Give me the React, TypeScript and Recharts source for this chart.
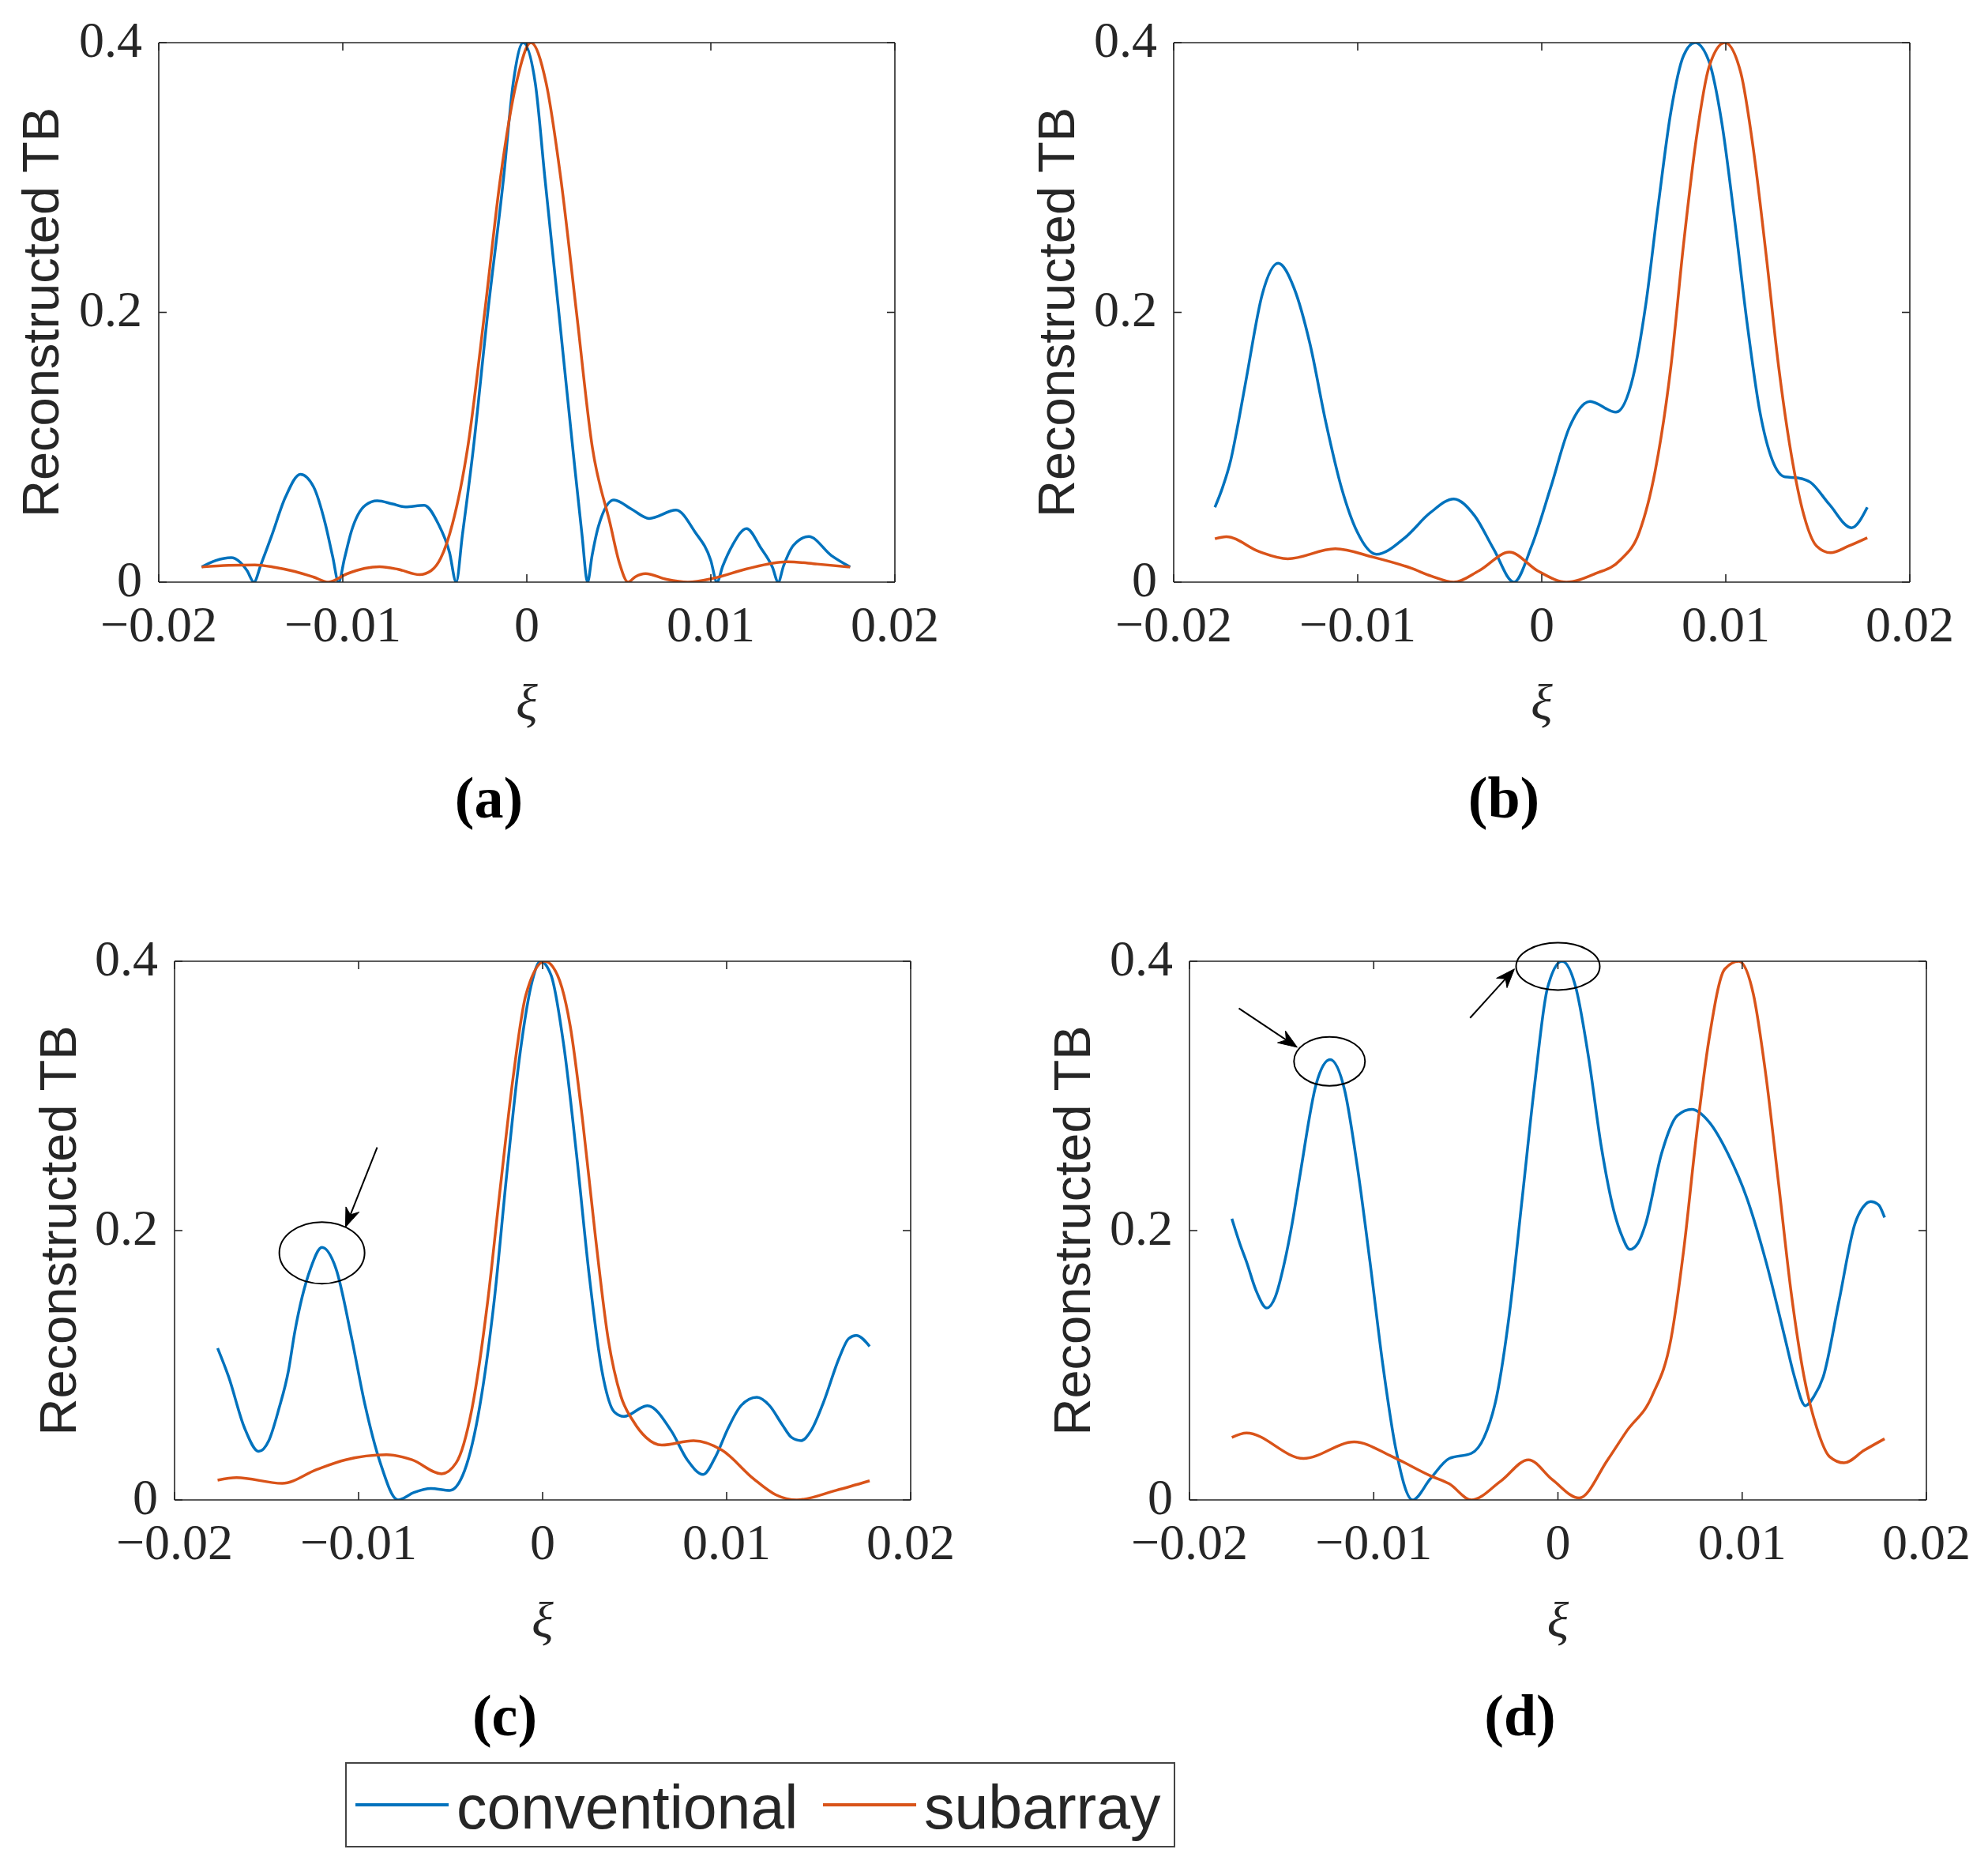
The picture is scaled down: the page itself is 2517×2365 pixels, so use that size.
import React from 'react';
import { LineChart, Line, XAxis, YAxis, Label, ReferenceDot, ReferenceLine, Legend } from 'recharts';

// ---- data (xi, reconstructed TB) ----
const convA: [number, number][] = [
  [-0.01767, 0.0112], [-0.0169, 0.016], [-0.01606, 0.0181], [-0.0152, 0.0085], [-0.01483, 0.0], [-0.01445, 0.013],
  [-0.01389, 0.0334], [-0.01312, 0.0629], [-0.0123, 0.08], [-0.01159, 0.0707], [-0.01095, 0.0432], [-0.01055, 0.019],
  [-0.01023, 0.0], [-0.0099, 0.018], [-0.00954, 0.0373], [-0.00877, 0.057], [-0.00813, 0.0603], [-0.0073, 0.058],
  [-0.0066, 0.0558], [-0.00558, 0.057], [-0.00481, 0.0432], [-0.0042, 0.022], [-0.00384, 0.0], [-0.0035, 0.035],
  [-0.00294, 0.095], [-0.00212, 0.2], [-0.00126, 0.3], [-0.00074, 0.37], [-0.0002, 0.4], [0.00046, 0.37],
  [0.00098, 0.3], [0.00174, 0.2], [0.00253, 0.095], [0.003, 0.035], [0.0033, 0.0], [0.00355, 0.02],
  [0.00389, 0.0413], [0.00473, 0.0609], [0.0057, 0.054], [0.00665, 0.0472], [0.00811, 0.0534], [0.00913, 0.0373],
  [0.01, 0.016], [0.01033, 0.0], [0.01065, 0.012], [0.01118, 0.0275], [0.01194, 0.0397], [0.01271, 0.0255],
  [0.01335, 0.011], [0.01366, 0.0], [0.01395, 0.012], [0.0145, 0.0275], [0.01532, 0.0338], [0.01655, 0.0197],
  [0.01757, 0.0112],
];
const subA: [number, number][] = [
  [-0.01767, 0.0112], [-0.0162, 0.0124], [-0.01478, 0.0128], [-0.0137, 0.011], [-0.01261, 0.0079], [-0.0116, 0.0038],
  [-0.01077, 0.0], [-0.0098, 0.006], [-0.0088, 0.0102], [-0.008, 0.0114], [-0.007, 0.0095], [-0.00583, 0.0055],
  [-0.0052, 0.0085], [-0.00468, 0.0177], [-0.00404, 0.0432], [-0.00321, 0.1], [-0.00229, 0.2], [-0.00143, 0.3],
  [-0.00057, 0.37], [0.00022, 0.4], [0.00105, 0.37], [0.00184, 0.3], [0.0027, 0.2], [0.00356, 0.1],
  [0.00453, 0.0432], [0.00504, 0.0138], [0.0055, 0.0], [0.0059, 0.004], [0.00645, 0.0063], [0.0076, 0.002],
  [0.00875, 0.0], [0.01015, 0.0029], [0.01194, 0.0098], [0.01412, 0.0151], [0.01578, 0.0134], [0.01757, 0.0112],
];
const convB: [number, number][] = [
  [-0.01776, 0.0555], [-0.01735, 0.0699], [-0.0169, 0.0904], [-0.01648, 0.119], [-0.01604, 0.152], [-0.01518, 0.2138],
  [-0.01432, 0.2364], [-0.01346, 0.218], [-0.0126, 0.177], [-0.01174, 0.119], [-0.01088, 0.0699], [-0.01002, 0.037],
  [-0.00898, 0.0206], [-0.00744, 0.0329], [-0.00606, 0.0514], [-0.00478, 0.0617], [-0.00365, 0.0493], [-0.00262, 0.0247],
  [-0.00151, 0.0], [-0.00055, 0.0267], [0.00048, 0.0699], [0.00151, 0.115], [0.00262, 0.134], [0.00403, 0.126],
  [0.00496, 0.152], [0.00565, 0.2055], [0.00633, 0.2795], [0.00702, 0.349], [0.00771, 0.3905], [0.00833, 0.4],
  [0.00909, 0.386], [0.00978, 0.341], [0.01046, 0.271], [0.01115, 0.193], [0.01184, 0.1274], [0.01253, 0.0904],
  [0.01322, 0.078], [0.0139, 0.0773], [0.0146, 0.074], [0.01563, 0.0576], [0.01683, 0.0403], [0.01769, 0.0555],
];
const subB: [number, number][] = [
  [-0.01776, 0.0321], [-0.01714, 0.0337], [-0.01535, 0.0226], [-0.0138, 0.0173], [-0.01122, 0.0247], [-0.00916, 0.0185],
  [-0.00709, 0.0103], [-0.006, 0.0045], [-0.00478, 0.0], [-0.0034, 0.0085], [-0.00176, 0.0222], [-0.0002, 0.0082],
  [0.00134, 0.0], [0.00289, 0.0062], [0.00427, 0.0164], [0.0053, 0.037], [0.00616, 0.0822], [0.00702, 0.16],
  [0.00771, 0.251], [0.0084, 0.329], [0.00909, 0.382], [0.00995, 0.4], [0.01081, 0.378], [0.0115, 0.321],
  [0.01219, 0.243], [0.01287, 0.16], [0.01356, 0.0946], [0.01425, 0.0493], [0.01494, 0.0267], [0.0157, 0.0218],
  [0.01666, 0.0267], [0.01769, 0.0329],
];
const convC: [number, number][] = [
  [-0.01766, 0.1127], [-0.01706, 0.0914], [-0.0162, 0.0535], [-0.01543, 0.036], [-0.01488, 0.044], [-0.01433, 0.0677],
  [-0.01381, 0.096], [-0.01347, 0.1245], [-0.01261, 0.1718], [-0.01199, 0.1875], [-0.01123, 0.1718], [-0.01037, 0.1198],
  [-0.00968, 0.0724], [-0.00882, 0.0275], [-0.00786, 0.0], [-0.007, 0.0055], [-0.00607, 0.0085], [-0.00504, 0.0071],
  [-0.00435, 0.018], [-0.0035, 0.063], [-0.00263, 0.148], [-0.00194, 0.243], [-0.00126, 0.328], [-0.00057, 0.385],
  [-0.00012, 0.4], [0.00046, 0.3896], [0.00115, 0.3375], [0.00184, 0.257], [0.00253, 0.167], [0.00322, 0.0961],
  [0.0039, 0.0653], [0.00442, 0.062], [0.00569, 0.07], [0.007, 0.0511], [0.00786, 0.0298], [0.00872, 0.0189],
  [0.0094, 0.0322], [0.01009, 0.0535], [0.01078, 0.07], [0.01164, 0.0762], [0.01233, 0.07], [0.01302, 0.0559],
  [0.01353, 0.0464], [0.01405, 0.044], [0.01457, 0.0511], [0.01526, 0.0724], [0.01612, 0.1056], [0.01663, 0.1198],
  [0.01704, 0.1221], [0.01777, 0.114],
];
const subC: [number, number][] = [
  [-0.01766, 0.0147], [-0.01663, 0.0166], [-0.01415, 0.0123], [-0.01226, 0.0227], [-0.01071, 0.0298], [-0.00848, 0.0336],
  [-0.0071, 0.0298], [-0.00549, 0.0194], [-0.0047, 0.0275], [-0.00384, 0.0677], [-0.00298, 0.148], [-0.00229, 0.233],
  [-0.0016, 0.314], [-0.00091, 0.375], [0.00012, 0.4], [0.00081, 0.3896], [0.0015, 0.352], [0.00218, 0.281],
  [0.00287, 0.1955], [0.00356, 0.1198], [0.00425, 0.0772], [0.00494, 0.0582], [0.00562, 0.0464], [0.00648, 0.0407],
  [0.0082, 0.044], [0.00975, 0.0369], [0.01147, 0.0156], [0.01267, 0.0038], [0.01381, 0.0], [0.01595, 0.0071],
  [0.01777, 0.0142],
];
const convD: [number, number][] = [
  [-0.0177, 0.2088], [-0.01726, 0.19], [-0.0169, 0.1766], [-0.01638, 0.1553], [-0.0158, 0.1425], [-0.01535, 0.1505],
  [-0.01484, 0.1766], [-0.01443, 0.205], [-0.01398, 0.2429], [-0.01312, 0.309], [-0.01237, 0.327], [-0.01158, 0.3044],
  [-0.01089, 0.2476], [-0.0102, 0.1766], [-0.00951, 0.1009], [-0.00882, 0.0393], [-0.00789, 0.0], [-0.00693, 0.0156],
  [-0.0059, 0.0308], [-0.0047, 0.0346], [-0.00401, 0.0464], [-0.00332, 0.0772], [-0.00263, 0.1387], [-0.00194, 0.2239],
  [-0.00126, 0.309], [-0.00057, 0.38], [0.00022, 0.4], [0.00098, 0.38], [0.00167, 0.328], [0.00236, 0.2618],
  [0.00304, 0.2144], [0.00349, 0.1955], [0.0039, 0.186], [0.00435, 0.1908], [0.00476, 0.205], [0.00562, 0.257],
  [0.00648, 0.2854], [0.00727, 0.29], [0.0082, 0.2807], [0.00923, 0.257], [0.01026, 0.2239], [0.0113, 0.1766],
  [0.01233, 0.1198], [0.01284, 0.0914], [0.01343, 0.07], [0.01391, 0.0772], [0.0144, 0.0914], [0.01526, 0.148],
  [0.01612, 0.205], [0.01653, 0.2168], [0.01698, 0.2215], [0.0174, 0.2192], [0.01773, 0.2097],
];
const subD: [number, number][] = [
  [-0.0177, 0.0464], [-0.0169, 0.0497], [-0.01381, 0.0308], [-0.01106, 0.0431], [-0.009, 0.0322], [-0.00693, 0.018],
  [-0.0059, 0.012], [-0.0047, 0.0], [-0.0031, 0.014], [-0.0016, 0.0298], [-0.0003, 0.015], [0.00115, 0.0014],
  [0.0027, 0.0298], [0.00373, 0.0511], [0.00511, 0.0772], [0.00614, 0.1198], [0.00683, 0.186], [0.00752, 0.271],
  [0.0082, 0.342], [0.00906, 0.3943], [0.00982, 0.4], [0.01061, 0.3754], [0.0113, 0.314], [0.01199, 0.2334],
  [0.01267, 0.1529], [0.01336, 0.0914], [0.01405, 0.0535], [0.01474, 0.0322], [0.01553, 0.0275], [0.01663, 0.0369],
  [0.01773, 0.0454],
];

const xTicks = [-0.02, -0.01, 0, 0.01, 0.02];
const yTicks = [0, 0.2, 0.4];
const seriesNames = ['conventional', 'subarray'];
const captions = ['(a)', '(b)', '(c)', '(d)'];

// annotation anchors (data coordinates)
const ellipsesC = [{ x: -0.01199, y: 0.1835, rx: 54, ry: 39 }];
const arrowsC = [{ from: [-0.00899, 0.2618], to: [-0.01071, 0.2026] }];
const ellipsesD = [
  { x: -0.0124, y: 0.3257, rx: 45, ry: 31 },
  { x: 0.0, y: 0.3962, rx: 53, ry: 30 },
];
const arrowsD = [
  { from: [-0.01732, 0.365], to: [-0.01415, 0.3361] },
  { from: [-0.00477, 0.3579], to: [-0.00236, 0.3943] },
];

const BLUE = '#0072BD';
const ORANGE = '#D95319';
const AX = '#262626';
const SERIF = '"Liberation Serif", "DejaVu Serif", serif';
const SANS = '"Liberation Sans", Arial, sans-serif';

const toPts = (arr: [number, number][]) => arr.map(([x, y]) => ({ x, y }));
const fmtX = (v: number) => (v === 0 ? '0' : (v < 0 ? '\u2212' : '') + String(Math.abs(v)));
const fmtY = (v: number) => String(v);

function arrowShape(props: any) {
  const { x1, y1, x2, y2 } = props;
  if (![x1, y1, x2, y2].every((v) => typeof v === 'number' && isFinite(v))) return <g />;
  const ang = Math.atan2(y2 - y1, x2 - x1);
  const c = Math.cos(ang);
  const s = Math.sin(ang);
  const len = 24;
  const hw = 9;
  const bx = x2 - len * c;
  const by = y2 - len * s;
  const nx = x2 - len * 0.7 * c;
  const ny = y2 - len * 0.7 * s;
  const pts = [
    [x2, y2],
    [bx - hw * s, by + hw * c],
    [nx, ny],
    [bx + hw * s, by - hw * c],
  ]
    .map((p) => p.join(','))
    .join(' ');
  return (
    <g>
      <line x1={x1} y1={y1} x2={nx} y2={ny} stroke="#000" strokeWidth={2} />
      <polygon points={pts} fill="#000" stroke="#000" strokeWidth={1} />
    </g>
  );
}

function renderLegend(props: any) {
  const payload = props.payload || [];
  const itemX = [13, 605];
  return (
    <svg width={1051} height={108} style={{ display: 'block' }}>
      <rect x={1} y={1} width={1049} height={106} fill="#fff" stroke="#444" strokeWidth={2} />
      {payload.map((e: any, i: number) => (
        <g key={i}>
          <line x1={itemX[i]} y1={54} x2={itemX[i] + 118} y2={54} stroke={e.color} strokeWidth={4} />
          <text x={itemX[i] + 128} y={84} fontFamily={SANS} fontSize={77} fill={AX}>
            {e.value}
          </text>
        </g>
      ))}
    </svg>
  );
}

type PanelDef = {
  cx: number; cy: number; cw: number; ch: number;
  L: number; T: number; R: number; B: number; labelX: number;
  conv: [number, number][]; sub: [number, number][]; caption: string;
  ellipses: { x: number; y: number; rx: number; ry: number }[];
  arrows: { from: number[]; to: number[] }[];
  legend?: boolean;
};

const panels: PanelDef[] = [
  { cx: 0, cy: 0, cw: 1258, ch: 1100, L: 201, T: 54, R: 1133, B: 737, labelX: 51, conv: convA, sub: subA, caption: captions[0], ellipses: [], arrows: [] },
  { cx: 1258, cy: 0, cw: 1259, ch: 1100, L: 1486, T: 54, R: 2418, B: 737, labelX: 1337, conv: convB, sub: subB, caption: captions[1], ellipses: [], arrows: [] },
  { cx: 0, cy: 1100, cw: 1258, ch: 1265, L: 221, T: 1217, R: 1153, B: 1899, labelX: 73, conv: convC, sub: subC, caption: captions[2], ellipses: ellipsesC, arrows: arrowsC, legend: true },
  { cx: 1258, cy: 1100, cw: 1259, ch: 1265, L: 1506, T: 1217, R: 2439, B: 1899, labelX: 1357, conv: convD, sub: subD, caption: captions[3], ellipses: ellipsesD, arrows: arrowsD },
];

function Panel({ p }: { p: PanelDef }) {
  const yW = 150;
  const xH = 100;
  const margin = {
    top: p.T - p.cy - 1,
    left: p.L - p.cx - yW,
    right: p.cx + p.cw - p.R - 1,
    bottom: p.cy + p.ch - p.B - xH,
  };
  const axisLine = { stroke: AX, strokeWidth: 1.6 };
  const tickStyleX = { fontFamily: SERIF, fontSize: 64, fill: AX };
  const tickStyleY = { fontFamily: SERIF, fontSize: 64, fill: AX, dy: -5 };
  return (
    <div style={{ position: 'absolute', left: p.cx, top: p.cy }}>
      <LineChart width={p.cw} height={p.ch} margin={margin}>
        <XAxis
          xAxisId="b" dataKey="x" type="number" domain={[-0.02, 0.02]} ticks={xTicks} interval={0}
          allowDataOverflow height={xH} tickSize={-10} tickMargin={40} tickFormatter={fmtX}
          axisLine={axisLine} tickLine={axisLine} tick={tickStyleX}
        >
          <Label value="ξ" position="center" dy={101} fontFamily={SERIF} fontStyle="italic" fontSize={64} fill={AX} />
          <Label value={p.caption} position="center" dy={222} dx={-48} fontFamily={SERIF} fontWeight="bold" fontSize={74} fill="#000" />
        </XAxis>
        <XAxis
          xAxisId="t" orientation="top" dataKey="x" type="number" domain={[-0.02, 0.02]} ticks={xTicks} interval={0}
          allowDataOverflow height={1} tickSize={-10} tickFormatter={() => ''} axisLine={axisLine} tickLine={axisLine}
        />
        <YAxis
          yAxisId="l" type="number" domain={[0, 0.4]} ticks={yTicks} interval={0} allowDataOverflow width={yW}
          tickSize={-10} tickMargin={31} tickFormatter={fmtY} axisLine={axisLine} tickLine={axisLine} tick={tickStyleY}
        >
          <Label value="Reconstructed TB" angle={-90} position="center" dx={p.labelX - (p.L - yW / 2)} fontFamily={SANS} fontSize={65} fill={AX} />
        </YAxis>
        <YAxis
          yAxisId="r" orientation="right" type="number" domain={[0, 0.4]} ticks={yTicks} interval={0} allowDataOverflow width={1}
          tickSize={-10} tickFormatter={() => ''} axisLine={axisLine} tickLine={axisLine}
        />
        <Line xAxisId="b" yAxisId="l" name={seriesNames[0]} data={toPts(p.conv)} dataKey="y" type="monotone" stroke={BLUE} strokeWidth={3.5} dot={false} isAnimationActive={false} />
        <Line xAxisId="b" yAxisId="l" name={seriesNames[1]} data={toPts(p.sub)} dataKey="y" type="monotone" stroke={ORANGE} strokeWidth={3.5} dot={false} isAnimationActive={false} />
        {p.ellipses.map((e, i) => (
          <ReferenceDot
            key={'e' + i} xAxisId="b" yAxisId="l" x={e.x} y={e.y} ifOverflow="visible"
            shape={(sp: any) => <ellipse cx={sp.cx} cy={sp.cy} rx={e.rx} ry={e.ry} fill="none" stroke="#000" strokeWidth={2} />}
          />
        ))}
        {p.arrows.map((a, i) => (
          <ReferenceLine
            key={'a' + i} xAxisId="b" yAxisId="l" ifOverflow="visible"
            segment={[{ x: a.from[0], y: a.from[1] }, { x: a.to[0], y: a.to[1] }]}
            shape={arrowShape}
          />
        ))}
        {p.legend && (
          <Legend
            layout="horizontal" verticalAlign="middle" align="center" width={1051} height={108}
            wrapperStyle={{ left: 437, top: 2231 - p.cy, width: 1051, height: 108 }}
            content={renderLegend}
          />
        )}
      </LineChart>
    </div>
  );
}

export default function App() {
  return (
    <div style={{ position: 'absolute', left: 0, top: 0, width: 2517, height: 2365, background: '#fff', overflow: 'hidden' }}>
      {panels.map((p, i) => (
        <Panel key={i} p={p} />
      ))}
    </div>
  );
}
